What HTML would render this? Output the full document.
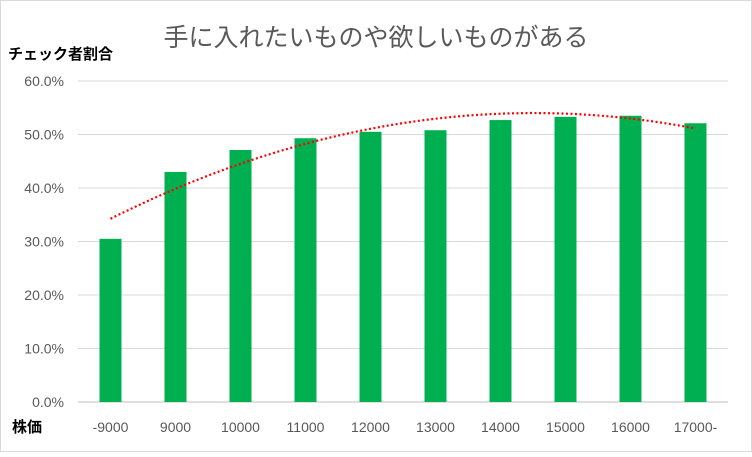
<!DOCTYPE html>
<html><head><meta charset="utf-8"><style>
body{margin:0;width:752px;height:452px;background:#fff;overflow:hidden;font-family:"Liberation Sans","Noto Sans CJK JP",sans-serif}
</style></head><body>
<svg width="752" height="452" id="c">
<rect x="0.5" y="0.5" width="751" height="451" fill="#fff" stroke="#d9d9d9"/>
<text x="376" y="46" text-anchor="middle" font-size="25" fill="#595959" font-family="Liberation Sans,Noto Sans CJK JP,sans-serif">手に入れたいものや欲しいものがある</text>
<text x="8" y="59" font-size="15" font-weight="bold" fill="#000" font-family="Liberation Sans,Noto Sans CJK JP,sans-serif">チェック者割合</text>
<text x="12" y="432" font-size="15" font-weight="bold" fill="#000" font-family="Liberation Sans,Noto Sans CJK JP,sans-serif">株価</text>
<g id="grid"></g><g id="bars"></g><g id="trend"></g><g id="labels"></g>
</svg>
<script>
const categories=["-9000","9000","10000","11000","12000","13000","14000","15000","16000","17000-"];
const values=[30.5,43.0,47.1,49.3,50.5,50.8,52.7,53.3,53.5,52.1];
const yTicks=[0,10,20,30,40,50,60];
const NS="http://www.w3.org/2000/svg";
const x0=78,x1=728,yBase=402,yTop=81,yMax=60;
const step=(x1-x0)/categories.length;
const xc=i=>x0+step*(i+0.5);
const ys=v=>yBase-(v/yMax)*(yBase-yTop);
function mk(t,a,p){const e=document.createElementNS(NS,t);for(const k in a)e.setAttribute(k,a[k]);p.appendChild(e);return e;}
const grid=document.getElementById('grid'),bars=document.getElementById('bars'),lab=document.getElementById('labels'),tr=document.getElementById('trend');
yTicks.forEach(t=>{
 const l=mk('line',{x1:x0,x2:x1,y1:ys(t),y2:ys(t),stroke:t===0?'#bfbfbf':'#d9d9d9','stroke-width':1},grid);
 
 
 const tx=mk('text',{x:64,y:ys(t)+5,'text-anchor':'end','font-size':14,fill:'#595959'},lab);
 tx.textContent=t.toFixed(1)+'%';
 
 
});
values.forEach((v,i)=>{
 const r=mk('rect',{x:xc(i)-11,y:ys(v),width:22,height:yBase-ys(v),fill:'#00b050'},bars);
 
 
 const tx=mk('text',{x:xc(i),y:432,'text-anchor':'middle','font-size':14,fill:'#595959'},lab);
 tx.textContent=categories[i];
 
 
});
// quadratic least-squares trendline
const n=values.length;let S=[0,0,0,0,0],T=[0,0,0];
values.forEach((v,i)=>{const x=i+1;for(let k=0;k<5;k++)S[k]+=Math.pow(x,k);for(let k=0;k<3;k++)T[k]+=v*Math.pow(x,k);});
const M=[[S[0],S[1],S[2],T[0]],[S[1],S[2],S[3],T[1]],[S[2],S[3],S[4],T[2]]];
for(let i=0;i<3;i++){for(let j=i+1;j<3;j++){const f=M[j][i]/M[i][i];for(let k=i;k<4;k++)M[j][k]-=f*M[i][k];}}
const c=[0,0,0];for(let i=2;i>=0;i--){let s=M[i][3];for(let k=i+1;k<3;k++)s-=M[i][k]*c[k];c[i]=s/M[i][i];}
let d='';for(let t=0;t<=100;t++){const xi=(n-1)*t/100;const x=xi+1;const y=c[0]+c[1]*x+c[2]*x*x;d+=(t?'L':'M')+(xc(0)+xi*step).toFixed(1)+','+ys(y).toFixed(1);}
const p=mk('path',{d:d,fill:'none',stroke:'#ff0000','stroke-width':2.2,'stroke-dasharray':'2 2.5'},tr);


</script>
</body></html>
